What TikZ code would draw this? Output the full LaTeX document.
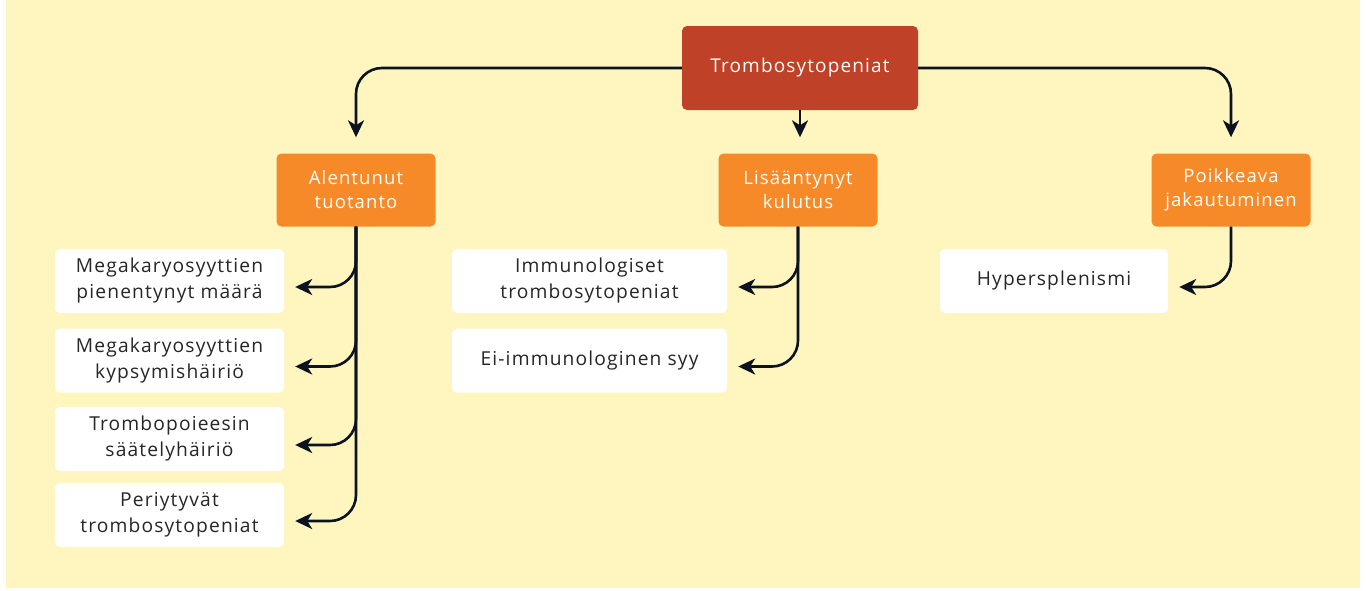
\documentclass[tikz,border=0pt]{standalone}
\usepackage{fontspec}
\setmainfont{Open Sans}[LetterSpace=6]
\usetikzlibrary{arrows.meta}
\definecolor{bgyellow}{HTML}{FFF5BF}
\definecolor{rootred}{HTML}{BE4128}
\definecolor{grouporange}{HTML}{F68A28}
\definecolor{leaftext}{HTML}{262626}
\definecolor{arrnavy}{HTML}{0B1220}
\tikzset{
  rootbox/.style={fill=rootred, text=white, rounded corners=5pt, inner sep=0pt,
    minimum width=236pt, minimum height=84pt, font=\fontsize{19}{24}\selectfont},
  groupbox/.style={fill=grouporange, text=white, rounded corners=5pt, inner sep=0pt,
    minimum width=159pt, minimum height=73pt, align=center, font=\fontsize{18.5}{24}\selectfont},
  leafbox/.style={fill=white, text=leaftext, rounded corners=5pt, inner sep=0pt,
    minimum height=64pt, align=center, font=\fontsize{19.2}{26}\selectfont},
  arr/.style={draw=arrnavy, line width=2.6pt, rounded corners=26pt,
    -{Stealth[length=17pt,width=16pt,inset=5pt]}},
}

\begin{document}
\begin{tikzpicture}[x=1pt,y=1pt]
			%%%%% START %%%%%
			\useasboundingbox (0,0) rectangle (1366,-590);
			\fill[bgyellow] (6,0) rectangle (1360,-588);
			
			\node[rootbox] (root) at (800,-68) {Trombosytopeniat};
			
			\node[groupbox] (alen) at (356,-190) {Alentunut\\tuotanto};
			\node[groupbox] (lisa) at (798,-190) {Lisääntynyt\\kulutus};
			\node[groupbox] (poik) at (1231,-190) {Poikkeava\\jakautuminen};
			
			\node[leafbox, minimum width=229pt] (meg1) at (169.5,-281) {Megakaryosyyttien\\pienentynyt määrä};
			\node[leafbox, minimum width=229pt] (meg2) at (169.5,-360.5) {Megakaryosyyttien\\kypsymishäiriö};
			\node[leafbox, minimum width=229pt] (trpo) at (169.5,-439) {Trombopoieesin\\säätelyhäiriö};
			\node[leafbox, minimum width=229pt] (peri) at (169.5,-515) {Periytyvät\\trombosytopeniat};
			
			\node[leafbox, minimum width=275pt] (immu) at (589.5,-281) {Immunologiset\\trombosytopeniat};
			\node[leafbox, minimum width=275pt] (eiim) at (589.5,-360.5) {Ei-immunologinen syy};
			
			\node[leafbox, minimum width=228pt] (hype) at (1054,-281) {Hypersplenismi};
			
			\draw[arr, shorten >=16pt] (root.west) -| (alen.north);
			\draw[arr, shorten >=16pt] (root.east) -| (poik.north);
			\draw[arr, shorten >=16pt] (root.south) -- (root.south |- lisa.north);
			
			\draw[arr, shorten >=11pt] (alen.south) |- ([yshift=-6pt]meg1.east);
			\draw[arr, shorten >=11pt] (alen.south) |- ([yshift=-6pt]meg2.east);
			\draw[arr, shorten >=11pt] (alen.south) |- ([yshift=-6pt]trpo.east);
			\draw[arr, shorten >=11pt] (alen.south) |- ([yshift=-6pt]peri.east);
			
			\draw[arr, shorten >=11pt] (lisa.south) |- ([yshift=-6pt]immu.east);
			\draw[arr, shorten >=11pt] (lisa.south) |- ([yshift=-6pt]eiim.east);
			
			\draw[arr, shorten >=11pt] (poik.south) |- ([yshift=-6pt]hype.east);
			%%%%% END %%%%%
\end{tikzpicture}
\end{document}
